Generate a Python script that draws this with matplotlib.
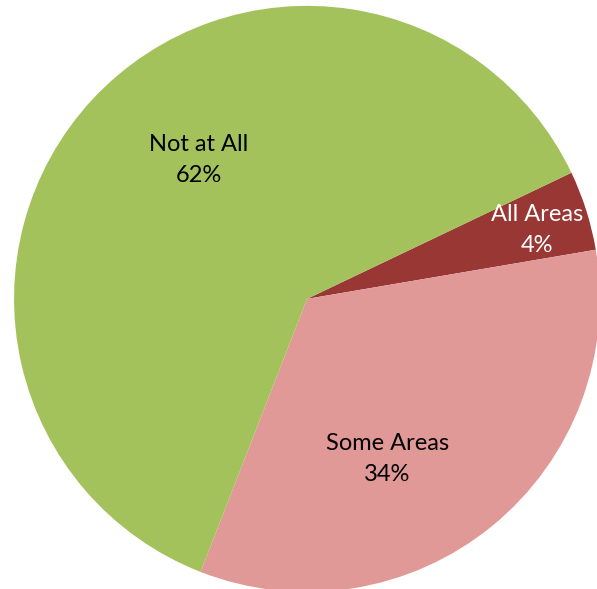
import matplotlib
matplotlib.use("Agg")
import matplotlib.pyplot as plt

# slices, clockwise from the top-right edge
categories = ["All Areas", "Some Areas", "Not at All"]
shares = [4.4, 33.6, 62.0]
colors = ["#993735", "#E09997", "#A3C25C"]
text_colors = ["white", "black", "black"]
# label centres in pie-radius units
label_xy = [(0.785, 0.234), (0.274, -0.546), (-0.369, 0.474)]

plt.rcParams["font.family"] = ["Lato", "DejaVu Sans"]

fig = plt.figure(figsize=(5.97, 5.89), dpi=100)
ax = fig.add_axes([0, 0, 1, 1])

ax.pie(shares, colors=colors, startangle=25.5, counterclock=False,
       radius=1.0, wedgeprops=dict(linewidth=0))

total = sum(shares)
for name, val, (x, y), tc in zip(categories, shares, label_xy, text_colors):
    ax.text(x, y, f"{name}\n{val / total * 100:.0f}%", ha="center", va="center",
            fontsize=17, color=tc, linespacing=1.6)

ax.set_aspect("auto")
ax.set_xlim(-1.048, 0.990)
ax.set_ylim(-0.990, 1.020)
ax.axis("off")

fig.savefig("out.png", dpi=100)
